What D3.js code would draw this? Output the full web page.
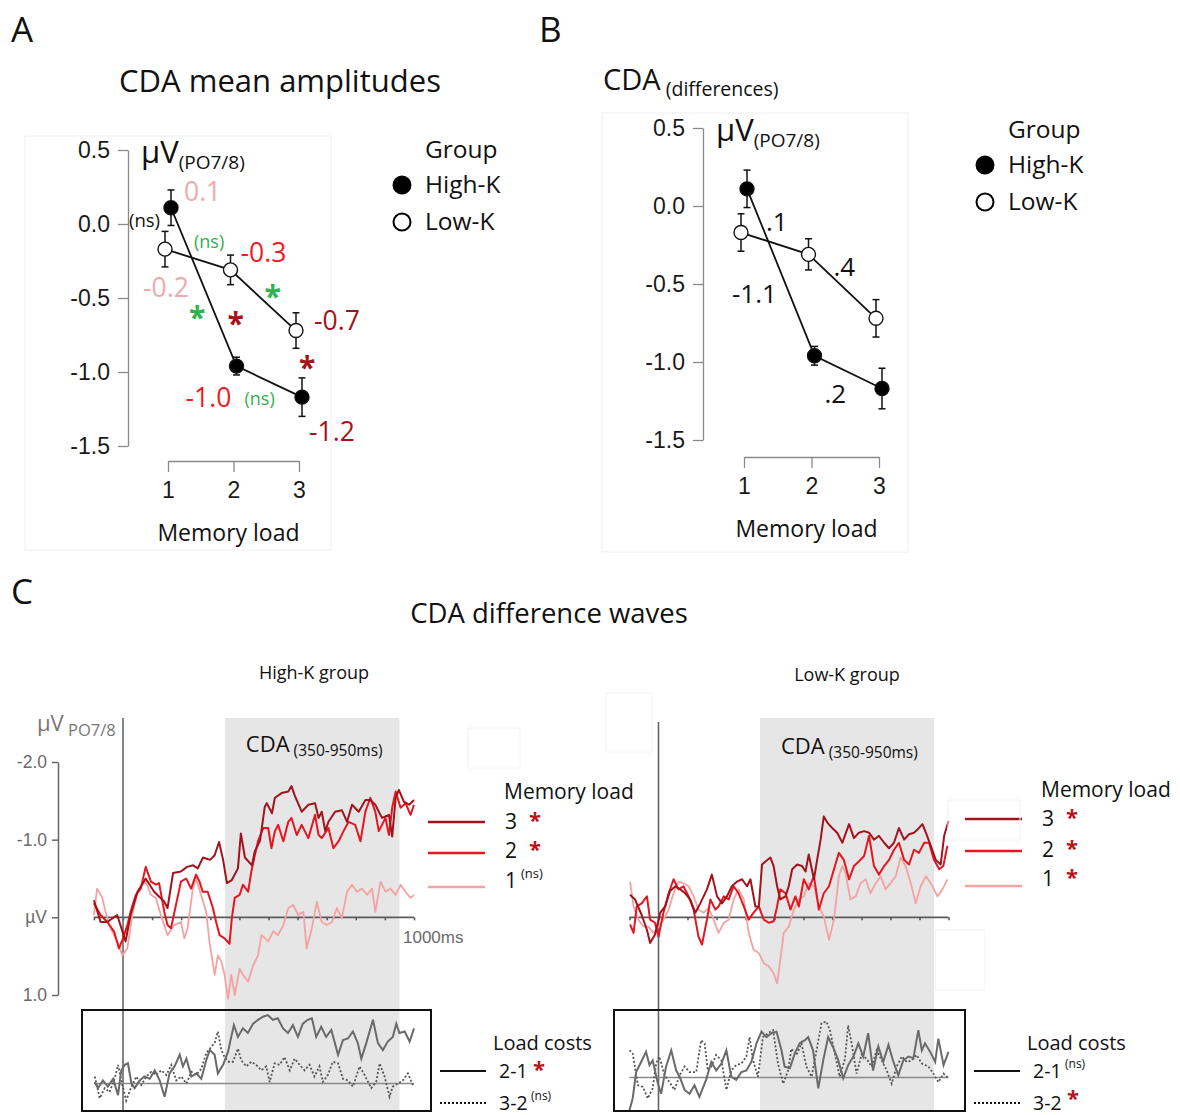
<!DOCTYPE html>
<html><head><meta charset="utf-8">
<script src="https://cdnjs.cloudflare.com/ajax/libs/d3/7.8.5/d3.min.js"></script>
<style>
body{margin:0;background:#fff;}
svg{display:block;}
</style></head><body>
<svg id="chart" width="1180" height="1115"></svg>
<script>
// ---------- data ----------
const loads = [1, 2, 3];
const groups = ["High-K", "Low-K"];
const highK = [0.11, -0.96, -1.17];
const lowK = [-0.17, -0.31, -0.72];
const highKErr = [0.12, 0.06, 0.13];
const lowKErr = [0.12, 0.10, 0.12];
const ampTicks = [0.5, 0.0, -0.5, -1.0, -1.5];
const diffLabels = [".1", ".4", "-1.1", ".2"];
const waveTicks = [-2, -1, 0, 1];
const cdaWindow = [350, 950];
const loadLabels = ["3", "2", "1"];
const costLabels = ["2-1", "3-2"];

// CDA difference waves, [ms, µV]; negative is drawn upward
const highK3 = [[-100,-0.22],[-77,0.06],[-54,0.06],[-20,-0.03],[9,0.31],[26,-0.03],[50,-0.33],[78,-0.50],[107,-0.33],[142,-0.20],[153,-0.12],[172,-0.57],[199,-0.59],[220,-0.65],[241,-0.67],[257,-0.63],[275,-0.77],[299,-0.74],[315,-0.80],[330,-0.97],[344,-0.74],[357,-0.44],[374,-0.48],[395,-0.63],[405,-1.08],[419,-0.77],[443,-0.67],[453,-0.85],[471,-0.99],[487,-1.42],[494,-1.47],[512,-1.34],[522,-1.54],[545,-1.60],[568,-1.62],[579,-1.69],[591,-1.56],[614,-1.36],[637,-1.45],[660,-1.47],[672,-1.28],[683,-1.36],[695,-1.11],[706,-1.23],[729,-1.36],[752,-1.38],[770,-1.23],[787,-1.45],[810,-1.36],[833,-1.51],[850,-1.51],[867,-1.45],[890,-1.28],[914,-1.32],[925,-1.04],[937,-1.54],[948,-1.64],[965,-1.49],[983,-1.45],[1000,-1.51]];
const highK2 = [[-100,-0.18],[-77,-0.03],[-54,0.06],[-31,0.18],[-14,0.40],[-2,0.29],[15,0.10],[26,-0.07],[44,-0.29],[61,-0.37],[78,-0.65],[96,-0.46],[113,-0.42],[124,-0.44],[142,-0.07],[153,0.10],[165,0.14],[182,-0.16],[199,-0.46],[217,-0.50],[234,-0.37],[251,-0.55],[263,-0.46],[274,-0.33],[291,-0.33],[309,-0.12],[320,0.06],[332,0.23],[349,0.27],[366,0.34],[374,0.01],[384,-0.25],[401,-0.29],[412,-0.42],[430,-0.33],[441,-0.59],[453,-0.80],[464,-0.98],[482,-1.15],[499,-1.15],[510,-0.89],[522,-1.11],[533,-1.19],[551,-0.98],[568,-1.23],[579,-1.28],[597,-1.06],[614,-1.19],[637,-1.02],[660,-1.32],[672,-1.06],[683,-1.02],[706,-1.15],[723,-0.89],[741,-0.98],[758,-1.11],[775,-1.23],[798,-1.19],[816,-0.98],[833,-1.36],[850,-1.54],[867,-1.36],[879,-1.11],[890,-1.19],[902,-1.28],[914,-1.06],[925,-1.41],[937,-1.62],[954,-1.41],[971,-1.47],[988,-1.32],[1000,-1.45]];
const highK1 = [[-100,-0.03],[-89,-0.37],[-71,-0.25],[-60,-0.07],[-43,0.14],[-20,0.31],[-2,0.49],[15,0.40],[32,-0.03],[50,-0.33],[67,-0.42],[78,-0.46],[96,-0.29],[113,-0.25],[130,-0.03],[153,0.23],[176,0.10],[199,0.06],[211,0.27],[222,0.14],[240,-0.37],[251,-0.50],[268,-0.29],[286,-0.07],[297,0.31],[315,0.74],[326,0.49],[338,0.57],[349,0.74],[361,1.05],[372,0.74],[384,1.00],[401,0.66],[412,0.74],[430,0.83],[447,0.62],[464,0.49],[476,0.23],[499,0.31],[516,0.18],[533,0.23],[551,0.10],[568,-0.12],[585,-0.16],[602,-0.03],[620,-0.07],[631,0.40],[649,0.14],[666,-0.20],[683,0.06],[700,0.10],[718,0.06],[735,-0.12],[752,0.01],[770,-0.33],[787,-0.42],[804,-0.33],[821,-0.37],[839,-0.29],[856,-0.37],[867,-0.07],[885,-0.46],[902,-0.33],[919,-0.37],[937,-0.29],[954,-0.42],[971,-0.33],[988,-0.25],[1000,-0.29]];

const lowK3 = [[-98,-0.29],[-81,-0.23],[-58,-0.03],[-40,0.16],[-29,0.33],[-12,0.22],[6,-0.06],[23,-0.14],[40,-0.34],[58,-0.40],[75,-0.36],[92,-0.31],[109,-0.23],[127,-0.06],[144,-0.18],[167,-0.36],[184,-0.55],[202,-0.27],[219,-0.18],[236,-0.27],[253,-0.40],[271,-0.46],[288,-0.49],[305,-0.40],[317,-0.49],[334,-0.14],[346,-0.14],[357,-0.68],[369,-0.72],[386,-0.77],[397,-0.66],[409,-0.40],[420,-0.23],[438,-0.27],[449,-0.40],[461,-0.62],[478,-0.68],[495,-0.66],[507,-0.59],[518,-0.81],[536,-0.49],[547,-0.74],[559,-1.00],[570,-1.30],[582,-1.22],[599,-1.15],[616,-1.09],[634,-0.96],[657,-1.20],[674,-1.02],[691,-1.09],[709,-1.11],[726,-1.09],[743,-1.00],[760,-1.05],[778,-0.96],[795,-0.89],[812,-0.96],[829,-1.15],[847,-1.00],[864,-1.07],[881,-1.09],[893,-1.13],[910,-1.20],[922,-1.09],[939,-0.92],[956,-0.74],[973,-0.68],[985,-1.05],[1000,-1.24]];
const lowK2 = [[-98,0.09],[-86,0.20],[-75,-0.14],[-58,-0.18],[-40,-0.27],[-29,0.03],[-12,0.07],[0,0.25],[17,-0.06],[35,-0.31],[52,-0.49],[69,-0.36],[86,-0.40],[104,-0.27],[121,-0.10],[138,0.25],[150,0.35],[167,0.03],[179,-0.23],[196,-0.10],[207,-0.14],[225,-0.27],[242,-0.23],[259,-0.40],[276,-0.31],[294,-0.14],[311,0.03],[328,-0.06],[346,-0.14],[363,0.03],[380,0.07],[397,0.05],[409,-0.14],[420,-0.36],[438,-0.31],[455,-0.10],[472,-0.27],[484,-0.14],[501,-0.49],[518,-0.36],[536,-0.53],[553,-0.10],[570,-0.31],[588,-0.40],[605,-0.62],[622,-0.83],[639,-0.74],[657,-0.49],[674,-0.66],[691,-0.72],[709,-0.79],[726,-1.05],[743,-0.66],[760,-0.55],[778,-0.66],[795,-0.74],[812,-0.87],[829,-0.96],[847,-0.74],[864,-0.68],[881,-0.87],[898,-0.83],[916,-0.96],[933,-0.96],[950,-0.74],[968,-0.62],[982,-0.66],[996,-0.92]];
const lowK1 = [[-98,-0.46],[-86,-0.14],[-69,0.03],[-52,0.12],[-35,0.12],[-17,0.20],[0,0.12],[17,0.03],[35,-0.10],[52,-0.31],[69,-0.46],[86,-0.44],[104,-0.40],[121,-0.27],[138,-0.10],[156,-0.06],[173,-0.12],[190,0.03],[207,0.20],[225,0.07],[242,0.03],[259,-0.23],[276,-0.36],[294,-0.23],[311,0.20],[328,0.42],[346,0.46],[363,0.59],[380,0.63],[397,0.72],[409,0.85],[420,0.55],[432,0.20],[449,0.12],[467,-0.10],[484,-0.23],[501,-0.27],[518,-0.44],[536,-0.40],[553,-0.14],[570,-0.01],[588,0.29],[605,0.03],[622,-0.53],[634,-0.66],[645,-0.57],[662,-0.23],[680,-0.27],[697,-0.44],[714,-0.49],[731,-0.31],[749,-0.44],[766,-0.53],[783,-0.36],[800,-0.44],[818,-0.53],[835,-0.77],[852,-0.66],[870,-0.44],[887,-0.18],[904,-0.40],[922,-0.53],[939,-0.44],[962,-0.27],[979,-0.36],[996,-0.49]];

// load-cost difference waves, [ms, µV]
const highKCost21 = [[-97,-0.02],[-86,0.06],[-69,-0.04],[-52,0.04],[-34,-0.06],[-17,0.15],[-6,-0.17],[6,-0.24],[17,-0.26],[29,0.00],[40,0.06],[57,-0.04],[74,-0.09],[92,-0.06],[109,-0.17],[126,-0.04],[143,0.17],[160,-0.13],[177,-0.22],[195,-0.37],[206,-0.22],[218,-0.32],[235,-0.09],[252,-0.13],[269,-0.06],[286,-0.30],[298,-0.43],[315,-0.37],[326,-0.13],[344,-0.24],[361,-0.41],[372,-0.60],[381,-0.75],[395,-0.60],[412,-0.71],[429,-0.65],[447,-0.77],[464,-0.82],[481,-0.86],[498,-0.88],[515,-0.82],[532,-0.84],[550,-0.71],[567,-0.65],[584,-0.75],[601,-0.60],[618,-0.77],[635,-0.82],[649,-0.84],[664,-0.60],[681,-0.73],[698,-0.60],[716,-0.69],[739,-0.37],[756,-0.56],[773,-0.58],[790,-0.67],[807,-0.52],[819,-0.32],[836,-0.52],[859,-0.82],[876,-0.52],[893,-0.43],[910,-0.54],[927,-0.60],[939,-0.77],[950,-0.65],[968,-0.67],[985,-0.54],[1000,-0.71]];
const highKCost32 = [[-97,-0.09],[-80,0.19],[-63,0.06],[-46,0.11],[-29,-0.06],[-17,-0.24],[-6,-0.04],[11,0.22],[29,0.04],[46,-0.09],[63,0.02],[80,-0.09],[97,-0.15],[114,-0.11],[132,-0.17],[149,-0.11],[166,-0.24],[183,-0.04],[200,-0.09],[218,0.00],[235,-0.15],[252,-0.11],[269,-0.19],[286,-0.39],[303,-0.47],[315,-0.52],[326,-0.67],[338,-0.43],[349,-0.34],[363,-0.28],[378,-0.28],[395,-0.45],[406,-0.30],[424,-0.22],[441,-0.28],[458,-0.24],[475,-0.17],[492,-0.22],[504,-0.02],[521,-0.26],[538,-0.24],[555,-0.34],[573,-0.17],[590,-0.32],[607,-0.24],[624,-0.17],[641,-0.24],[658,-0.09],[675,-0.22],[687,-0.02],[704,-0.11],[721,-0.28],[739,-0.26],[756,-0.06],[773,-0.04],[790,0.04],[813,-0.22],[830,-0.11],[853,0.06],[870,-0.02],[882,-0.26],[899,-0.09],[916,0.17],[927,0.04],[945,0.00],[962,-0.04],[979,-0.13],[996,0.02]];
const lowKCost21 = [[-100,0.42],[-89,0.27],[-77,-0.07],[-60,-0.20],[-43,-0.33],[-31,-0.16],[-20,-0.22],[-2,0.08],[9,0.21],[26,-0.14],[44,-0.35],[61,-0.09],[73,-0.01],[90,0.16],[107,0.21],[124,0.10],[141,0.25],[164,0.03],[182,-0.20],[199,-0.09],[217,-0.18],[234,-0.35],[251,-0.01],[268,0.03],[286,-0.07],[303,-0.09],[320,-0.20],[338,-0.44],[355,-0.59],[372,-0.52],[389,-0.57],[407,-0.59],[424,-0.35],[435,-0.14],[453,-0.12],[470,-0.31],[487,-0.44],[505,-0.48],[516,-0.52],[533,-0.35],[551,0.14],[568,-0.22],[585,-0.52],[602,-0.39],[620,-0.22],[637,0.01],[654,-0.16],[672,-0.27],[689,-0.44],[706,-0.27],[723,-0.57],[740,-0.09],[758,-0.40],[775,-0.20],[793,-0.42],[810,-0.20],[827,-0.03],[844,-0.22],[862,-0.27],[879,-0.25],[896,-0.61],[908,-0.35],[919,-0.44],[937,-0.33],[954,-0.20],[965,-0.50],[983,-0.16],[1000,-0.33]];
const lowKCost32 = [[-100,-0.35],[-89,-0.31],[-71,0.10],[-54,0.12],[-37,0.27],[-20,0.14],[-8,-0.18],[3,-0.27],[21,-0.03],[38,0.06],[55,0.16],[73,-0.03],[90,-0.14],[107,-0.07],[130,-0.07],[147,-0.48],[159,-0.44],[170,-0.09],[182,-0.14],[199,-0.29],[217,-0.22],[234,0.16],[251,-0.09],[268,-0.16],[286,-0.18],[303,-0.27],[314,-0.52],[326,-0.22],[343,-0.01],[360,-0.52],[378,-0.57],[395,-0.61],[412,-0.18],[430,0.08],[447,-0.09],[458,-0.37],[476,-0.29],[493,-0.44],[510,-0.14],[528,-0.01],[545,-0.35],[562,-0.70],[579,-0.72],[591,-0.61],[608,-0.31],[625,-0.01],[643,-0.24],[654,-0.67],[666,-0.44],[683,-0.05],[700,-0.29],[718,-0.24],[735,-0.14],[752,-0.35],[770,-0.22],[787,-0.09],[804,0.08],[821,-0.14],[839,-0.27],[856,-0.20],[873,-0.22],[890,-0.29],[908,-0.18],[931,-0.14],[948,-0.05],[965,0.06],[983,-0.05],[1000,0.01]];

// ---------- styling ----------
const SANS = "'Open Sans', 'Noto Sans', sans-serif";
const ARIAL = "'Liberation Sans', Arial, sans-serif";
const C3 = "#a3131c", C2 = "#e5161f", C1 = "#f4a2a2";
const PINK_LBL = "#f0aaaa", RED_LBL = "#ee1c24", DARK_LBL = "#a51219", GREEN = "#2fb34c";
const SIG = "#b8141c";
const fmt = d => d3.format(".1f")(d).replace("\u2212", "-");

const svg = d3.select("#chart");

function label(g, x, y, s, o = {}) {
  return g.append("text").attr("x", x).attr("y", y).text(s)
    .attr("font-family", o.family || SANS)
    .attr("font-size", o.size || 20)
    .attr("fill", o.fill || "#111")
    .attr("text-anchor", o.anchor || "start")
    .attr("font-weight", o.weight || "normal");
}
function star(g, x, cy, fill, size = 26) {
  return label(g, x, cy + size * 0.55, "*", { fill, size, weight: "bold" });
}
function subLabel(g, x, y, main, sub, mainSize, subSize, fill, dy) {
  const t = g.append("text").attr("x", x).attr("y", y)
    .attr("font-family", SANS).attr("fill", fill);
  t.append("tspan").attr("font-size", mainSize).text(main);
  t.append("tspan").attr("font-size", subSize).attr("dy", dy).text(sub);
  return t;
}

// ---------- panel letters and titles ----------
label(svg, 11, 42, "A", { size: 35 });
label(svg, 539, 42, "B", { size: 35 });
label(svg, 11, 604, "C", { size: 35 });
label(svg, 280, 92, "CDA mean amplitudes", { size: 31, anchor: "middle" });
subLabel(svg, 603, 90, "CDA", "\u00a0(differences)", 29, 19.5, "#111", 6);
label(svg, 549, 623, "CDA difference waves", { size: 27.5, anchor: "middle" });

// ---------- amplitude panels (A and B) ----------
function ampPanel(cfg) {
  const g = svg.append("g");
  g.append("rect").attr("x", cfg.frame[0]).attr("y", cfg.frame[1])
    .attr("width", cfg.frame[2]).attr("height", cfg.frame[3])
    .attr("fill", "none").attr("stroke", "#f0f0f0").attr("stroke-width", 1);

  const x = d3.scalePoint().domain(loads).range(cfg.xRange);
  const y = d3.scaleLinear().domain([-1.5, 0.5]).range(cfg.yRange);

  const ya = g.append("g").attr("transform", `translate(${cfg.axisX},0)`)
    .call(d3.axisLeft(y).tickValues(ampTicks).tickFormat(fmt).tickSize(10).tickSizeOuter(0).tickPadding(8));
  ya.selectAll("path,line").attr("stroke", "#8a8a8a").attr("stroke-width", 1.3);
  ya.selectAll("text").attr("font-family", ARIAL).attr("font-size", 23).attr("fill", "#1a1a1a");

  const xa = g.append("g").attr("transform", `translate(0,${cfg.axisY})`)
    .call(d3.axisBottom(x).tickSize(11).tickSizeOuter(0).tickPadding(10));
  xa.selectAll("path,line").attr("stroke", "#8a8a8a").attr("stroke-width", 1.3);
  xa.selectAll("text").attr("font-family", ARIAL).attr("font-size", 23).attr("fill", "#1a1a1a");

  label(g, (cfg.xRange[0] + cfg.xRange[1]) / 2 - 5, cfg.axisY + 80, "Memory load", { size: 23, anchor: "middle" });
  subLabel(g, cfg.axisX + 13, y(0.5) + 13, "\u00b5V", "(PO7/8)", 31, 19, "#111", 6);

  const series = [
    { vals: lowK, err: lowKErr, dx: -3, fill: "#fff" },
    { vals: highK, err: highKErr, dx: 3, fill: "#000" }
  ];
  const line = d3.line().x((d, i) => x(loads[i]) + d.dx).y(d => y(d.v));
  series.forEach(s => {
    const pts = s.vals.map(v => ({ v, dx: s.dx }));
    g.append("path").attr("d", line(pts)).attr("fill", "none").attr("stroke", "#111").attr("stroke-width", 1.8);
    s.vals.forEach((v, i) => {
      const cx = x(loads[i]) + s.dx;
      const e = g.append("g").attr("stroke", "#111").attr("stroke-width", 1.5);
      e.append("line").attr("x1", cx).attr("x2", cx).attr("y1", y(v + s.err[i])).attr("y2", y(v - s.err[i]));
      [v + s.err[i], v - s.err[i]].forEach(w =>
        e.append("line").attr("x1", cx - 3.5).attr("x2", cx + 3.5).attr("y1", y(w)).attr("y2", y(w)));
    });
    s.vals.forEach((v, i) => {
      g.append("circle").attr("cx", x(loads[i]) + s.dx).attr("cy", y(v)).attr("r", 7)
        .attr("fill", s.fill).attr("stroke", "#111").attr("stroke-width", 1.4);
    });
  });

  // group legend
  const lg = svg.append("g");
  label(lg, cfg.legend[0] + 23, cfg.legend[1], "Group", { size: 24.5 });
  groups.forEach((name, i) => {
    const cy = cfg.legend[1] + 27 + i * 37;
    lg.append("circle").attr("cx", cfg.legend[0]).attr("cy", cy).attr("r", 8.5)
      .attr("fill", i === 0 ? "#000" : "#fff").attr("stroke", "#000").attr("stroke-width", 2);
    label(lg, cfg.legend[0] + 23, cy + 8, name, { size: 24.5 });
  });
  return { g, x, y };
}

const A = ampPanel({ frame: [25, 136, 306, 414], xRange: [168, 299], yRange: [446, 150], axisX: 128, axisY: 461, legend: [402, 158] });
const B = ampPanel({ frame: [602, 113, 306, 439], xRange: [744, 879], yRange: [440, 128], axisX: 703, axisY: 457, legend: [985, 138] });

// panel A: mean values and statistics
{
  const g = A.g, x = A.x, y = A.y;
  const lcol = [PINK_LBL, RED_LBL, DARK_LBL];
  const vs = 26.5;
  label(g, x(1) + 16, y(highK[0]) - 7, fmt(highK[0]), { size: vs, fill: lcol[0] });
  label(g, x(2) - 48, y(highK[1]) + 41, fmt(highK[1]), { size: vs, fill: lcol[1] });
  label(g, x(3) + 10, y(highK[2]) + 44, fmt(highK[2]), { size: vs, fill: lcol[2] });
  label(g, x(1) - 25, y(lowK[0]) + 48, fmt(lowK[0]), { size: vs, fill: lcol[0] });
  label(g, x(2) + 7, y(lowK[1]) - 8, fmt(lowK[1]), { size: vs, fill: lcol[1] });
  label(g, x(3) + 15, y(lowK[2]) - 1, fmt(lowK[2]), { size: vs, fill: lcol[2] });
  label(g, x(1) - 39, y(0) + 3, "(ns)", { size: 18.5, fill: "#111" });
  label(g, x(1) + 26, y(0) + 24, "(ns)", { size: 18, fill: GREEN });
  label(g, x(2) + 11, y(-1.0) + 33, "(ns)", { size: 18, fill: GREEN });
  star(g, x(1) + 21, y(-0.59), GREEN, 30);
  star(g, x(2) + 31, y(-0.45), GREEN, 30);
  star(g, x(2) - 6, y(-0.63), DARK_LBL, 30);
  star(g, x(3), y(-0.93), DARK_LBL, 30);
}
// panel B: slope differences
{
  const g = B.g, x = B.x, y = B.y;
  label(g, x(1) + 22, y(-0.16), diffLabels[0], { size: 26 });
  label(g, x(2) + 22, y(-0.45), diffLabels[1], { size: 26 });
  label(g, x(1) - 12, y(-0.62), diffLabels[2], { size: 26 });
  label(g, x(2) + 13, y(-1.26), diffLabels[3], { size: 26 });
}

// ---------- difference-wave panels (C) ----------
const waveY = d3.scaleLinear().domain([-2, 1]).range([762, 995]);
const PX_PER_UV = (waveY(1) - waveY(0));

function wavePanel(cfg) {
  const g = svg.append("g");
  const x = d3.scaleLinear().domain([0, 1000]).range([cfg.x0, cfg.x1000]);
  const xStart = x(-100);

  // CDA window shading
  g.append("rect").attr("x", x(cdaWindow[0])).attr("y", 718)
    .attr("width", x(cdaWindow[1]) - x(cdaWindow[0])).attr("height", 393)
    .attr("fill", "#e6e6e6");

  label(g, x(cdaWindow[0]) + 21, cfg.cdaY, "CDA", { size: 22 })
    .append("tspan").attr("font-size", 15.5).attr("dy", 4).text("\u00a0(350-950ms)");

  // time axis through zero
  const za = g.append("g").attr("transform", `translate(0,${waveY(0)})`)
    .call(d3.axisBottom(x).tickValues(d3.range(-100, 1001, 100)).tickSize(3).tickSizeOuter(0).tickFormat(""));
  za.select(".domain").attr("d", `M${xStart},0H${x(1000)}`);
  za.selectAll("path,line").attr("stroke", "#5a5a5a").attr("stroke-width", 1.6);

  // stimulus onset
  g.append("line").attr("x1", x(0)).attr("x2", x(0)).attr("y1", cfg.onsetTop).attr("y2", 1111)
    .attr("stroke", "#666").attr("stroke-width", 1.6);

  const line = d3.line().x(d => x(d[0])).y(d => waveY(d[1]));
  [[cfg.w1, C1, 1.8], [cfg.w2, C2, 2.0], [cfg.w3, C3, 2.0]].forEach(([w, c, sw]) =>
    g.append("path").attr("d", line(w)).attr("fill", "none").attr("stroke", c)
      .attr("stroke-width", sw).attr("stroke-linejoin", "round"));

  // memory-load legend
  label(g, cfg.legX + 76, cfg.legY, "Memory load", { size: 21 });
  [C3, C2, C1].forEach((c, i) => {
    const ly = cfg.legLines[i];
    g.append("line").attr("x1", cfg.legX).attr("x2", cfg.legX + 57).attr("y1", ly).attr("y2", ly)
      .attr("stroke", c).attr("stroke-width", 2.5);
    label(g, cfg.legX + 77, cfg.legDigits[i], loadLabels[i], { size: 21 });
    if (cfg.legSig[i] === "*") star(g, cfg.legX + 101, cfg.legDigits[i] - 13, SIG, 22);
    else label(g, cfg.legX + 93, cfg.legDigits[i] - 10, cfg.legSig[i], { size: 13 });
  });

  // load-cost inset
  const zc = cfg.costZero;
  const yc = d3.scaleLinear().domain([0, 1]).range([zc, zc + PX_PER_UV]);
  g.append("line").attr("x1", xStart).attr("x2", x(1000)).attr("y1", zc).attr("y2", zc)
    .attr("stroke", "#8a8a8a").attr("stroke-width", 1.5);
  const cline = d3.line().x(d => x(d[0])).y(d => yc(d[1]));
  g.append("path").attr("d", cline(cfg.c32)).attr("fill", "none").attr("stroke", "#555")
    .attr("stroke-width", 1.8).attr("stroke-dasharray", "2,2");
  g.append("path").attr("d", cline(cfg.c21)).attr("fill", "none").attr("stroke", "#6a6a6a")
    .attr("stroke-width", 2);
  g.append("rect").attr("x", cfg.box[0]).attr("y", 1010).attr("width", cfg.box[1] - cfg.box[0]).attr("height", 101)
    .attr("fill", "none").attr("stroke", "#111").attr("stroke-width", 2);

  const lx = cfg.box[1] + 9;
  label(g, lx + 53, 1050, "Load costs", { size: 20 });
  [1071, 1103].forEach((ly, i) => {
    g.append("line").attr("x1", lx).attr("x2", lx + 46).attr("y1", ly).attr("y2", ly)
      .attr("stroke", "#111").attr("stroke-width", i === 0 ? 2.2 : 2)
      .attr("stroke-dasharray", i === 0 ? null : "2,2");
    label(g, lx + 59, ly + 7, costLabels[i], { size: 19.5 });
    if (cfg.costSig[i] === "*") star(g, lx + 93, ly - (i === 0 ? 6 : 9), SIG, 22);
    else label(g, lx + 91, ly - 3, cfg.costSig[i], { size: 12 });
  });
  return { g, x };
}

// High-K group
const L = wavePanel({
  x0: 123, x1000: 414, onsetTop: 718, cdaY: 752,
  w1: highK1, w2: highK2, w3: highK3,
  legX: 428, legY: 799, legLines: [822, 853, 887], legDigits: [829, 858, 888], legSig: ["*", "*", "(ns)"],
  costZero: 1083.5, c21: highKCost21, c32: highKCost32, box: [82, 431], costSig: ["*", "(ns)"]
});
// Low-K group
const R = wavePanel({
  x0: 658.5, x1000: 948.5, onsetTop: 722, cdaY: 754,
  w1: lowK1, w2: lowK2, w3: lowK3,
  legX: 965, legY: 797, legLines: [819, 851, 886], legDigits: [826, 857, 886], legSig: ["*", "*", "*"],
  costZero: 1077.5, c21: lowKCost21, c32: lowKCost32, box: [614, 965], costSig: ["(ns)", "*"]
});

label(svg, 314, 679, "High-K group", { size: 18, anchor: "middle" });
label(svg, 847, 681, "Low-K group", { size: 18, anchor: "middle" });

// amplitude axis of the High-K waves
{
  const ax = svg.append("g").attr("transform", "translate(58,0)")
    .call(d3.axisLeft(waveY).tickValues(waveTicks).tickSize(6).tickSizeOuter(0).tickPadding(5)
      .tickFormat(d => d === 0 ? "\u00b5V" : fmt(d)));
  ax.selectAll("path,line").attr("stroke", "#666").attr("stroke-width", 1.5);
  ax.selectAll("text").attr("font-family", ARIAL).attr("font-size", 17.5).attr("fill", "#6a6a6a");
  subLabel(svg, 37, 731, "\u00b5V", "\u00a0PO7/8", 22, 16.5, "#777", 5);
  label(svg, L.x(1000) - 11, 943, "1000ms", { family: ARIAL, size: 17, fill: "#6a6a6a" });
}

// faint placeholder frames left in the figure
[[468, 728, 52, 40], [606, 693, 46, 59], [935, 930, 50, 60], [948, 800, 72, 40]].forEach(r =>
  svg.append("rect").attr("x", r[0]).attr("y", r[1]).attr("width", r[2]).attr("height", r[3])
    .attr("fill", "none").attr("stroke", "#f2f2f2").attr("stroke-width", 1));
</script></body></html>
